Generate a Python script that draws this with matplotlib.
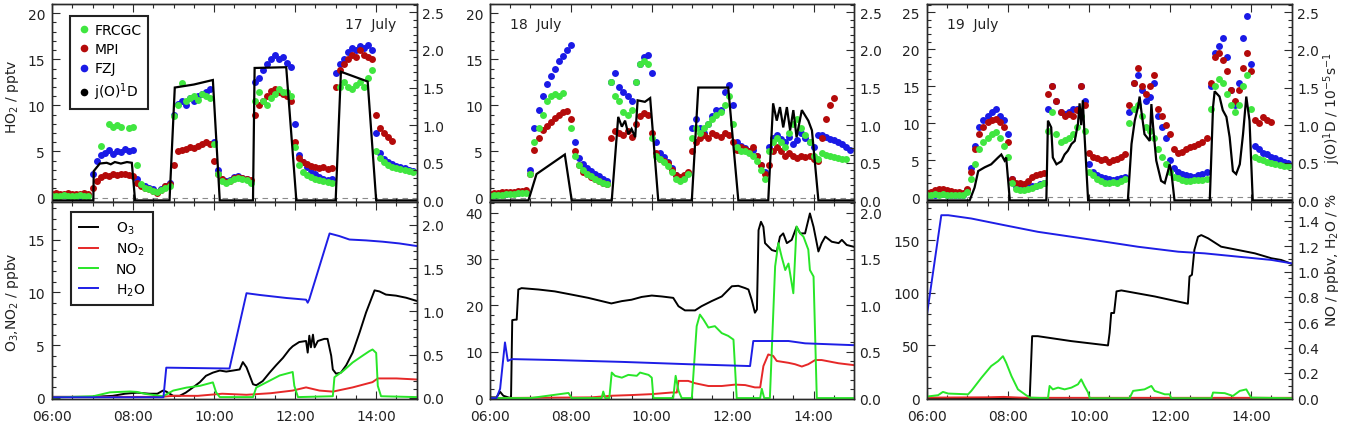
import numpy as np
import matplotlib
matplotlib.use("Agg")
import matplotlib.pyplot as plt
from matplotlib.lines import Line2D
from matplotlib.ticker import MultipleLocator, FormatStrFormatter

plt.rcParams['font.family'] = ['DejaVu Sans']
plt.rcParams['font.size'] = 10
plt.rcParams['mathtext.default'] = 'regular'

nan = np.nan

# ---------------- data ----------------
day_labels = ['17  July', '18  July', '19  July']
time_ticks = [6, 8, 10, 12, 14]
time_labels = ['06:00', '08:00', '10:00', '12:00', '14:00']
# HO2 sampling times (hours), 6-min steps 06:00 ... 14:54
t_ho2 = np.round(np.arange(6.0, 15.0, 0.1), 1)

# HO2 / pptv, 17 July
frcgc_17 = [0.2, 0.15, 0.2, 0.25, 0.2, 0.15, 0.2, 0.25, 0.2, 0.2,
            nan, nan, 5.6, nan, 8.0, 7.6, 7.9, 7.6, nan, 7.5,
            7.7, 3.5, 1.5, 1.0, 0.9, 0.7, 0.6, 0.8, 1.0, 1.2,
            8.8, 10.0, 12.4, 10.5, 10.8, 11.0, 10.6, 11.2, 11.0, 10.8,
            5.8, 2.5, 1.8, 1.6, 1.8, 2.0, 2.1, 2.0, 1.9, 1.6,
            10.5, 11.5, 10.5, 10.0, 10.8, 11.2, 11.8, 11.5, 11.5, 11.0,
            5.5, 3.5, 2.8, 2.4, 2.2, 2.0, 1.9, 1.8, 1.7, 1.6,
            nan, 12.0, 12.5, 12.0, 11.8, 12.2, 12.5, 12.0, 13.0, 13.8,
            5.0, 4.3, 3.8, 3.5, 3.3, 3.2, 3.1, 3.0, 2.9, 2.8]
mpi_17 = [0.4, 0.45, 0.35, 0.4, 0.45, 0.4, 0.35, 0.4, 0.45, 0.4,
          1.0, 1.8, 2.2, 2.4, 2.3, 2.5, 2.4, 2.6, 2.5, 2.4,
          2.3, 1.6, 1.2, 1.0, 0.9, 0.7, 0.5, 0.8, 1.2, 1.5,
          3.5, 5.0, 5.2, 5.3, 5.5, 5.4, 5.6, 5.8, 6.0, 5.8,
          4.0, 2.5, 2.0, 1.7, 1.8, 2.1, 2.2, 2.1, 2.0, 1.9,
          9.0, 10.0, 10.5, 11.0, 11.6, 11.8, 11.4, 11.2, 11.0, 10.5,
          6.0, 4.3, 3.9, 3.6, 3.4, 3.3, 3.2, 3.3, 3.1, 3.2,
          12.0, 13.8, 14.5, 15.0, 15.5, 15.3, 16.0, 15.5, 15.2, 15.0,
          9.0, 7.5, 7.0, 6.6, 6.1, nan, nan, nan, nan, nan]
fzj_17 = [nan, nan, nan, 0.25, 0.2, 0.3, 0.25, 0.2, 0.3, 0.25,
          2.5, 4.0, 4.6, 4.8, 5.2, 4.7, 5.1, 4.9, 5.3, 5.0,
          5.2, 2.0, 1.4, 1.2, 1.0, 0.9, 0.6, 0.9, 1.3, 1.6,
          9.0, 10.2, 10.5, 10.0, 10.8, 10.5, 11.0, 11.2, 11.5, 11.8,
          6.0, 3.0, 2.0, 1.8, 1.9, 2.2, 2.3, 2.1, 2.0, 1.7,
          12.5, 13.0, 13.8, 14.5, 15.0, 15.5, 15.0, 15.3, 14.6, 14.2,
          8.0, 4.6, 3.8, 3.3, 2.8, 2.5, 2.2, 2.0, 1.9, 2.0,
          13.5, 14.5, 15.0, 15.8, 16.2, 16.0, 16.4, 16.2, 16.6, 16.0,
          7.0, 4.8, 4.2, 3.8, 3.6, 3.4, 3.3, 3.2, 3.0, 2.9]

# HO2 / pptv, 18 July
frcgc_18 = [0.2, 0.25, 0.3, 0.3, 0.35, 0.4, 0.4, 0.45, 0.5, 0.5,
            2.5, 6.0, 7.5, 9.0, 10.5, 11.0, 11.2, 11.0, 11.3, nan,
            7.5, 4.5, 3.5, 3.0, 2.6, 2.3, 2.0, 1.8, 1.6, 1.5,
            12.5, 11.0, 10.5, 9.3, 9.0, 9.5, 12.5, 14.5, 14.8, 14.5,
            6.5, 4.5, 4.2, 3.8, 3.4, 2.8, 2.0, 1.8, 2.0, 2.5,
            6.5, 7.5, 7.0, 7.5, 8.0, 8.5, 9.0, 9.3, 10.0, 11.0,
            8.0, 5.5, 5.0, 5.0, 4.8, 4.5, 4.0, 3.0, 2.0, 5.0,
            6.0, 6.5, 6.0, 5.5, 7.0, 8.0, 8.5, 7.5, 6.8, 6.0,
            4.5, 4.2, 4.8, 4.6, 4.5, 4.4, 4.3, 4.2, 4.2, nan]
mpi_18 = [0.4, 0.45, 0.5, 0.55, 0.6, 0.6, 0.65, 0.7, 0.75, 0.8,
          2.5, 5.2, 6.5, 7.3, 7.8, 8.2, 8.6, 9.0, 9.3, 9.4,
          8.5, 5.0, 3.5, 2.8, 2.5, 2.2, 2.0, 1.8, 1.6, 1.5,
          6.5, 7.2, 7.0, 6.8, 7.2, 6.6, 8.0, 8.8, 9.2, 9.0,
          7.0, 4.8, 4.2, 4.0, 3.7, 3.0, 2.4, 2.2, 2.4, 2.8,
          5.0, 6.0, 6.5, 6.8, 6.5, 7.0, 6.8, 6.6, 7.0, 6.8,
          6.0, 5.2, 5.5, 5.3, 5.0, 5.5, 4.5, 3.5, 2.5, 3.5,
          5.0, 5.5, 5.0, 4.5, 4.8, 4.5, 4.3, 4.5, 4.4, 4.5,
          4.2, 4.0, 6.5, 8.5, 10.0, 10.8, nan, nan, nan, nan]
fzj_18 = [0.3, 0.3, 0.35, 0.4, 0.4, 0.45, 0.5, 0.5, 0.55, 0.6,
          3.0, 7.5, 9.5, 11.0, 12.3, 13.2, 14.0, 14.8, 15.4, 16.0,
          16.5, 6.0, 4.3, 3.6, 3.2, 2.9, 2.6, 2.3, 2.0, 1.8,
          12.5, 13.5, 12.0, 11.5, 11.0, 10.5, 12.5, 14.5, 15.2, 15.5,
          13.5, 6.0, 4.8, 4.4, 3.9, 3.2, 2.4, 2.0, 2.2, 2.7,
          7.5, 8.5, 7.5, 7.0, 8.0, 8.8, 9.5, 9.5, 11.5, 12.2,
          10.0, 6.0, 5.6, 5.4, 5.0, 5.2, 4.5, 3.5, 2.8, 5.5,
          6.5, 6.8, 6.4, 6.0, 6.6, 5.8, 6.2, 7.0, 6.5, 6.0,
          5.5, 6.8, 6.8, 6.6, 6.4, 6.2, 6.0, 5.8, 5.5, 5.2]

# HO2 / pptv, 19 July
frcgc_19 = [0.3, 0.4, 0.5, 0.4, 0.5, 0.4, 0.3, 0.4, 0.3, 0.3,
            0.8, 2.5, 4.5, 6.5, 7.5, 8.0, 8.5, 8.8, 8.0, 7.0,
            5.5, 2.0, 1.2, 1.0, 1.0, 1.1, 1.3, 1.5, 1.7, 1.9,
            9.0, 11.5, 8.5, 7.5, 7.8, 8.0, 8.5, 9.5, 11.0, 9.0,
            3.5, 3.0, 2.5, 2.2, 2.0, 2.0, 2.1, 2.0, 2.2, 2.5,
            10.0, 12.0, 12.5, 11.0, 9.5, 9.0, 8.0, 6.5, 5.5, 4.5,
            3.5, 2.8, 2.6, 2.4, 2.2, 2.2, 2.3, 2.4, 2.3, 2.5,
            12.0, 15.0, 16.0, 15.5, 14.0, 12.5, 11.5, 12.5, 15.0, 16.5,
            12.0, 5.5, 5.2, 5.0, 4.8, 4.6, 4.5, 4.4, 4.3, 4.2]
mpi_19 = [0.6, 0.8, 1.0, 1.2, 1.1, 1.0, 0.9, 0.8, 0.7, 0.6,
          1.2, 3.5, 6.5, 8.5, 9.5, 10.2, 10.4, 10.6, 10.2, 9.5,
          7.5, 2.5, 2.0, 2.0, 1.8, 2.2, 2.8, 3.0, 3.2, 3.3,
          14.0, 15.0, 13.0, 11.5, 11.0, 11.2, 11.0, 11.8, 15.0, 12.5,
          6.0, 5.5, 5.3, 5.0, 5.2, 4.8, 5.0, 5.2, 5.5, 5.8,
          12.5, 15.5, 17.5, 15.0, 14.0, 15.0, 16.5, 12.0, 11.0, 9.8,
          8.5, 6.5, 6.0, 6.2, 6.5, 6.8, 7.0, 7.2, 7.5, 8.0,
          15.5, 19.0, 19.5, 18.5, 17.0, 14.5, 13.0, 14.5, 17.5, 19.5,
          17.0, 10.5, 10.0, 10.8, 10.5, 10.2, nan, nan, nan, nan]
fzj_19 = [0.3, 0.3, 0.4, 0.5, 0.5, 0.4, 0.4, 0.3, 0.3, 0.3,
          1.0, 4.0, 7.0, 9.5, 10.5, 11.0, 11.5, 12.0, 11.0, 10.5,
          8.5, 2.5, 1.5, 1.4, 1.3, 1.4, 1.5, 1.6, 1.8, 2.0,
          12.0, 15.0, 13.0, 11.5, 11.2, 11.5, 12.0, 12.0, 15.0, 13.0,
          4.5, 3.5, 3.0, 2.8, 2.6, 2.5, 2.4, 2.5, 2.6, 2.7,
          11.5, 15.5, 16.5, 14.5, 13.0, 13.5, 15.5, 11.0, 9.5, 8.0,
          5.0, 4.0, 3.5, 3.2, 3.0, 2.9, 2.8, 3.0, 3.2, 3.5,
          15.0, 19.5, 20.5, 21.5, 19.0, 14.5, 12.5, 15.5, 21.5, 24.5,
          18.0, 7.0, 6.5, 6.0, 5.8, 5.5, 5.3, 5.0, 4.8, 4.6]

# j(O1D) / 1e-5 s-1
j17_t = [6.0, 7.02, 7.03, 7.18, 7.35, 7.45, 7.55, 7.7, 7.85, 7.97, 8.05,
         8.9, 9.03, 9.5, 9.97, 10.14, 10.96, 11.0, 11.78, 12.03,
         13.0, 13.13, 13.79, 14.0, 15.0]
j17_v = [0, 0, 0.39, 0.49, 0.50, 0.48, 0.51, 0.49, 0.51, 0.50, 0,
         0, 1.50, 1.54, 1.60, 0, 0, 1.76, 1.77, 0,
         0, 1.71, 1.58, 0, 0]
j18_t = [6.0, 6.95, 7.15, 7.85, 8.02, 9.01, 9.17, 9.26, 9.34, 9.42, 9.5,
         9.59, 9.65, 9.83, 9.96, 10.16, 10.99, 11.15, 11.89, 12.14, 12.88,
         13.0, 13.09, 13.17, 13.25, 13.34, 13.42, 13.5, 13.58, 13.71,
         13.87, 13.96, 14.12, 15.0]
j18_v = [0, 0, 0.35, 0.61, 0, 0, 1.11, 0.98, 1.06, 0.88, 0.95,
         0.84, 1.33, 1.31, 1.36, 0, 0, 1.50, 1.50, 0, 0,
         1.29, 1.06, 1.24, 0.97, 1.24, 0.93, 1.20, 0.84, 1.20,
         1.06, 0.93, 0, 0]
j19_t = [6.0, 7.06, 7.18, 7.27, 7.43, 7.59, 7.76, 7.84, 7.92, 7.96, 8.05,
         8.95, 8.99, 9.07, 9.11, 9.2, 9.32, 9.4, 9.48, 9.57, 9.65, 9.73,
         9.77, 9.81, 9.85, 9.89, 9.98, 10.96, 11.05, 11.13, 11.21, 11.25,
         11.29, 11.37, 11.5, 11.54, 11.58, 11.66, 11.78, 11.87, 11.95,
         11.99, 12.03, 12.11, 12.98, 13.06, 13.1, 13.22, 13.3, 13.39,
         13.47, 13.55, 13.63, 13.72, 13.8, 13.88, 13.96, 14.04, 15.0]
j19_v = [0, 0, 0.17, 0.39, 0.44, 0.48, 0.57, 0.61, 0.53, 0.57, 0,
         0, 1.06, 0.97, 0.57, 0.48, 0.52, 0.61, 0.66, 0.75, 0.79, 1.02,
         1.29, 1.00, 1.33, 0.88, 0, 0, 0.75, 1.06, 1.24, 1.38,
         1.20, 0.88, 0.79, 1.28, 1.00, 0.53, 0.26, 0.23, 0.39,
         0.48, 0.39, 0, 0, 1.24, 1.45, 1.38, 1.20, 1.11,
         0.84, 0.39, 0.35, 0.48, 0.88, 1.38, 1.06, 0, 0]

# O3 / ppbv
o3_17_t = [6.0, 7.0, 7.5, 7.8, 8.1, 8.4, 8.6, 8.74, 8.82, 8.99, 9.15, 9.3,
           9.48, 9.65, 9.8, 9.97, 10.14, 10.3, 10.47, 10.63, 10.71, 10.8,
           10.88, 10.96, 11.04, 11.2, 11.37, 11.53, 11.7, 11.86, 11.94,
           12.1, 12.27, 12.31, 12.35, 12.39, 12.44, 12.48, 12.56, 12.72,
           12.8, 12.89, 12.93, 13.01, 13.13, 13.26, 13.42, 13.59, 13.75,
           13.87, 13.96, 14.08, 14.24, 14.49, 14.74, 15.0]
o3_17_v = [0.1, 0.1, 0.2, 0.4, 0.5, 0.4, 0.4, 0.7, 0.6, 0.2, 0.2, 0.5,
           1.0, 1.5, 2.1, 2.4, 2.6, 2.5, 2.6, 2.7, 3.4, 2.9,
           2.1, 1.3, 1.2, 1.6, 2.4, 3.1, 3.8, 4.6, 4.9,
           5.3, 5.4, 4.3, 5.9, 4.8, 6.0, 4.8, 5.4, 5.6,
           5.6, 4.0, 2.7, 2.3, 2.4, 3.1, 4.3, 6.2, 8.1,
           9.3, 10.2, 10.1, 9.8, 9.7, 9.5, 9.2]
o3_18_t = [6.0, 6.16, 6.25, 6.33, 6.45, 6.52, 6.55, 6.62, 6.66, 6.7, 6.78,
           7.2, 7.6, 8.02, 8.43, 9.0, 9.26, 9.5, 9.75, 10.0, 10.25, 10.53,
           10.66, 10.82, 11.07, 11.23, 11.48, 11.73, 11.98, 12.14, 12.31,
           12.39, 12.47, 12.55, 12.6, 12.64, 12.7, 12.76, 12.8, 12.97,
           13.09, 13.17, 13.25, 13.34, 13.46, 13.58, 13.67, 13.79, 13.91,
           14.0, 14.12, 14.2, 14.29, 14.45, 14.62, 14.7, 14.82, 15.0]
o3_18_v = [0.15, 0.15, 1.35, 0.5, 0.15, 0.0, 16.8, 16.9, 16.9, 23.4, 23.7,
           23.4, 23.0, 22.3, 21.6, 20.4, 20.9, 21.2, 21.8, 22.1, 21.9, 21.6,
           19.8, 18.9, 18.9, 19.8, 20.9, 21.9, 24.1, 24.2, 23.7,
           23.4, 21.2, 18.4, 19.1, 36.2, 38.0, 36.9, 33.4, 31.9,
           31.6, 34.8, 35.5, 33.4, 34.1, 36.9, 35.5, 35.5, 39.8,
           36.9, 31.6, 33.4, 34.8, 33.7, 33.4, 34.1, 33.0, 32.6]
o3_19_t = [6.0, 8.54, 8.6, 8.74, 9.57, 10.47, 10.51, 10.55, 10.62, 10.68,
           10.8, 11.62, 12.44, 12.48, 12.54, 12.6, 12.69, 12.77, 12.94,
           13.26, 13.67, 14.09, 14.5, 14.74, 15.0]
o3_19_v = [0, 0, 58.8, 58.8, 54.1, 50.0, 61.9, 80.8, 80.8, 101.3,
           102.2, 96.5, 89.6, 115.4, 117.0, 140.6, 153.1, 154.7, 151.6,
           143.7, 140.6, 137.4, 132.7, 131.1, 127.4]

# NO2 / ppbv
no2_17_t = [6.0, 8.66, 9.0, 9.6, 10.2, 10.8, 11.4, 11.94, 12.27, 12.6,
            12.93, 13.42, 13.91, 14.04, 14.5, 15.0]
no2_17_v = [0.1, 0.1, 0.2, 0.2, 0.4, 0.3, 0.45, 0.7, 1.0, 0.7,
            0.6, 1.0, 1.5, 1.85, 1.85, 1.75]
no2_18_t = [6.0, 8.5, 9.0, 9.5, 10.0, 10.49, 10.62, 10.66, 10.9, 11.07,
            11.4, 11.73, 12.06, 12.31, 12.55, 12.68, 12.76, 12.88, 13.0,
            13.09, 13.38, 13.54, 13.71, 13.87, 14.04, 14.2, 14.62, 15.0]
no2_18_v = [0.0, 0.15, 0.5, 0.65, 0.85, 1.2, 1.2, 3.7, 3.7, 3.2,
            2.6, 2.6, 2.9, 2.8, 2.3, 2.3, 6.9, 9.4, 9.1,
            8.0, 7.6, 7.3, 6.8, 7.3, 8.2, 8.2, 7.5, 7.1]
no2_19_t = [6.0, 7.5, 7.9, 8.3, 8.6, 10.0, 12.0, 14.0, 15.0]
no2_19_v = [0.5, 0.8, 1.2, 0.5, 0.3, 0.3, 0.3, 0.3, 0.3]

# NO / ppbv
no_17_t = [6.0, 7.02, 7.43, 7.92, 8.09, 8.33, 8.66, 8.74, 8.99, 9.32, 9.65,
           9.97, 10.05, 10.14, 10.96, 11.04, 11.29, 11.62, 11.94, 11.98,
           12.07, 12.93, 12.97, 13.18, 13.42, 13.67, 13.83, 13.91, 14.0,
           14.04, 14.12, 15.0]
no_17_v = [0.005, 0.02, 0.065, 0.075, 0.07, 0.045, 0.025, 0.02, 0.085, 0.12,
           0.14, 0.18, 0.065, 0.01, 0.01, 0.12, 0.18, 0.26, 0.30, 0.14,
           0.01, 0.02, 0.24, 0.31, 0.41, 0.49, 0.54, 0.56, 0.52,
           0.14, 0.02, 0.01]
no_18_t = [6.0, 7.0, 7.94, 8.02, 8.76, 8.8, 8.85, 8.95, 9.01, 9.09, 9.26,
           9.42, 9.63, 9.71, 9.92, 10.0, 10.04, 10.53, 10.59, 10.66, 10.74,
           10.99, 11.11, 11.19, 11.28, 11.4, 11.56, 11.73, 11.89, 12.02,
           12.1, 12.68, 12.72, 12.78, 12.92, 13.05, 13.13, 13.21, 13.3,
           13.38, 13.5, 13.58, 13.67, 13.75, 13.87, 13.91, 14.0, 14.08, 15.0]
no_18_v = [0.0, 0.0, 0.055, 0.0, 0.0, 0.07, 0.0, 0.0, 0.275, 0.24, 0.22,
           0.25, 0.24, 0.275, 0.25, 0.22, 0.0, 0.0, 0.24, 0.08, 0.0,
           0.0, 0.775, 0.90, 0.845, 0.76, 0.775, 0.70, 0.67, 0.63,
           0.0, 0.0, 0.10, 0.0, 0.0, 1.42, 1.67, 1.525, 1.38,
           1.45, 1.13, 1.85, 1.775, 1.74, 1.60, 1.38, 1.31, 0.0, 0.0]
no_19_t = [6.0, 6.28, 6.4, 6.53, 7.02, 7.1, 7.35, 7.59, 7.76, 7.88, 7.96,
           8.09, 8.25, 8.42, 8.54, 8.99, 9.03, 9.11, 9.24, 9.4, 9.57, 9.73,
           9.81, 9.89, 9.98, 10.02, 11.0, 11.09, 11.37, 11.54, 11.62, 11.87,
           11.99, 12.03, 13.02, 13.06, 13.35, 13.55, 13.72, 13.88, 14.0, 15.0]
no_19_v = [0.013, 0.024, 0.05, 0.037, 0.031, 0.058, 0.162, 0.254, 0.293,
           0.332, 0.28, 0.175, 0.07, 0.031, 0.005, 0.0, 0.097, 0.07, 0.084,
           0.07, 0.084, 0.11, 0.149, 0.097, 0.045, 0.0, 0.0, 0.058, 0.07,
           0.097, 0.058, 0.031, 0.031, 0.0, 0.0, 0.045, 0.04, 0.018, 0.058,
           0.07, 0.005, 0.0]

# H2O / %
h2o_17_t = [6.0, 8.75, 8.82, 10.38, 10.8, 11.12, 11.78, 12.27, 12.31, 12.35,
            12.85, 13.09, 13.34, 13.75, 14.16, 14.57, 15.0]
h2o_17_v = [0.008, 0.008, 0.35, 0.34, 1.21, 1.19, 1.155, 1.135, 1.10, 1.14,
            1.90, 1.87, 1.83, 1.82, 1.805, 1.785, 1.755]
h2o_18_t = [6.0, 6.16, 6.25, 6.37, 6.44, 6.54, 7.6, 9.26, 10.9, 12.43,
            12.51, 13.38, 13.79, 15.0]
h2o_18_v = [0.0, 0.0, 0.1, 0.6, 0.4, 0.42, 0.41, 0.39, 0.365, 0.345,
            0.615, 0.615, 0.59, 0.57]
h2o_19_t = [6.0, 6.36, 6.53, 7.1, 7.92, 8.74, 9.57, 10.39, 11.21, 12.2,
            12.85, 13.67, 14.5, 15.0]
h2o_19_v = [0.647, 1.445, 1.445, 1.419, 1.366, 1.314, 1.275, 1.236, 1.196,
            1.157, 1.144, 1.118, 1.092, 1.065]

# ---------------- style ----------------
C_FRCGC = '#40e640'
C_MPI = '#b40a0a'
C_FZJ = '#1a1ae6'
C_O3 = 'black'
C_NO2 = '#e62828'
C_NO = '#28e628'
C_H2O = '#1e1ee6'
SPINE = '#2a2a2a'
MS = 5.0

W, H = 1366, 439
fig = plt.figure(figsize=(W / 100, H / 100), dpi=100)

lefts = [52.0, 490.0, 926.7]
widths = [364.7, 364.0, 365.0]
top_y0, top_y1 = 5.0, 203.3
bot_y0, bot_y1 = 203.3, 400.0

ho2_sets = [(frcgc_17, mpi_17, fzj_17), (frcgc_18, mpi_18, fzj_18),
            (frcgc_19, mpi_19, fzj_19)]
j_sets = [(j17_t, j17_v), (j18_t, j18_v), (j19_t, j19_v)]
o3_sets = [(o3_17_t, o3_17_v), (o3_18_t, o3_18_v), (o3_19_t, o3_19_v)]
no2_sets = [(no2_17_t, no2_17_v), (no2_18_t, no2_18_v), (no2_19_t, no2_19_v)]
no_sets = [(no_17_t, no_17_v), (no_18_t, no_18_v), (no_19_t, no_19_v)]
h2o_sets = [(h2o_17_t, h2o_17_v), (h2o_18_t, h2o_18_v), (h2o_19_t, h2o_19_v)]

top_left_lim = [(-0.52, 21.0), (-0.52, 21.0), (-0.65, 26.1)]
top_right_lim = (-0.025, 2.61)
bot_left_lim = [(-0.1, 18.55), (-0.2, 42.2), (-0.8, 185.8)]
bot_right_lim = [(-0.012, 2.26), (-0.01, 2.11), (-0.006, 1.547)]
bot_left_major = [5, 10, 50]
bot_left_minor = [1, 2, 10]
bot_right_major = [0.5, 0.5, 0.2]
bot_right_minor = [0.1, 0.1, 0.05]


def style_axes(ax, twin, xlabels):
    for a in (ax, twin):
        for s in a.spines.values():
            s.set_color(SPINE)
            s.set_linewidth(1.0)
    ax.set_xlim(6, 15)
    ax.set_xticks(time_ticks)
    ax.xaxis.set_minor_locator(MultipleLocator(0.5))
    if xlabels:
        ax.set_xticklabels(time_labels)
    ax.tick_params(axis='x', which='both', direction='in', top=True,
                   bottom=True, labelbottom=xlabels, pad=7, colors=SPINE,
                   labelcolor='#222')
    ax.tick_params(axis='x', which='major', length=6, width=0.8)
    ax.tick_params(axis='x', which='minor', length=3, width=0.8)
    ax.tick_params(axis='y', which='both', direction='in', left=True,
                   right=False, pad=5, colors=SPINE, labelcolor='#222')
    ax.tick_params(axis='y', which='major', length=6, width=0.8)
    ax.tick_params(axis='y', which='minor', length=3, width=0.8)
    twin.tick_params(axis='y', which='both', direction='in', right=True,
                     left=False, pad=4, colors=SPINE, labelcolor='#222')
    twin.tick_params(axis='y', which='major', length=6, width=0.8)
    twin.tick_params(axis='y', which='minor', length=3, width=0.8)
    twin.yaxis.set_major_formatter(FormatStrFormatter('%.1f'))


for i in range(3):
    x0 = lefts[i] / W
    w = widths[i] / W
    # ---- top panel: HO2 and j(O1D)
    ax = fig.add_axes([x0, 1 - top_y1 / H, w, (top_y1 - top_y0) / H])
    ax2 = ax.twinx()
    frc, mpi, fzj = ho2_sets[i]
    ax.axhline(0, color='#8c8c8c', lw=0.8, ls=(0, (5, 4)), zorder=1)
    ax.plot(t_ho2, fzj, ls='none', marker='o', ms=MS, mew=0, color=C_FZJ, zorder=2)
    ax.plot(t_ho2, mpi, ls='none', marker='o', ms=MS, mew=0, color=C_MPI, zorder=3)
    ax.plot(t_ho2, frc, ls='none', marker='o', ms=MS, mew=0, color=C_FRCGC, zorder=4)
    jt, jv = j_sets[i]
    ax2.plot(jt, jv, color='black', lw=1.6, solid_joinstyle='miter')
    ax.set_ylim(*top_left_lim[i])
    ax2.set_ylim(*top_right_lim)
    ax.yaxis.set_major_locator(MultipleLocator(5))
    ax.yaxis.set_minor_locator(MultipleLocator(1))
    ax2.yaxis.set_major_locator(MultipleLocator(0.5))
    ax2.yaxis.set_minor_locator(MultipleLocator(0.1))
    style_axes(ax, ax2, False)
    if i == 0:
        ax.text(0.875, 0.899, day_labels[i], transform=ax.transAxes,
                ha='center', va='center', fontsize=10, color='#222')
        handles = [Line2D([], [], ls='none', marker='o', ms=5.5, mew=0, color=c)
                   for c in (C_FRCGC, C_MPI, C_FZJ, 'black')]
        leg = ax2.legend(handles, ['FRCGC', 'MPI', 'FZJ', 'j(O)$^1$D'],
                         loc='upper left', bbox_to_anchor=(0.049, 0.9395),
                         borderaxespad=0, frameon=True, fancybox=False,
                         framealpha=1, edgecolor='#222', borderpad=0.5,
                         labelspacing=0.38, handlelength=1.0,
                         handletextpad=0.25, fontsize=10)
        leg.get_frame().set_linewidth(1.5)
    else:
        ax.text(0.055, 0.899, day_labels[i], transform=ax.transAxes,
                ha='left', va='center', fontsize=10, color='#222')

    # ---- bottom panel: O3, NO2 (left) and NO, H2O (right)
    bx = fig.add_axes([x0, 1 - bot_y1 / H, w, (bot_y1 - bot_y0) / H])
    bx2 = bx.twinx()
    t, v = o3_sets[i]
    l_o3, = bx.plot(t, v, color=C_O3, lw=1.4)
    t, v = no2_sets[i]
    l_no2, = bx.plot(t, v, color=C_NO2, lw=1.4)
    t, v = no_sets[i]
    l_no, = bx2.plot(t, v, color=C_NO, lw=1.4)
    t, v = h2o_sets[i]
    l_h2o, = bx2.plot(t, v, color=C_H2O, lw=1.4)
    bx.set_ylim(*bot_left_lim[i])
    bx2.set_ylim(*bot_right_lim[i])
    bx.yaxis.set_major_locator(MultipleLocator(bot_left_major[i]))
    bx.yaxis.set_minor_locator(MultipleLocator(bot_left_minor[i]))
    bx2.yaxis.set_major_locator(MultipleLocator(bot_right_major[i]))
    bx2.yaxis.set_minor_locator(MultipleLocator(bot_right_minor[i]))
    style_axes(bx, bx2, True)
    if i == 0:
        leg = bx2.legend([l_o3, l_no2, l_no, l_h2o],
                         ['O$_3$', 'NO$_2$', 'NO', 'H$_2$O'],
                         loc='upper left', bbox_to_anchor=(0.052, 0.952),
                         borderaxespad=0, frameon=True, fancybox=False,
                         framealpha=1, edgecolor='#222', borderpad=0.55,
                         labelspacing=0.36, handlelength=1.4,
                         handletextpad=1.3, fontsize=10)
        leg.get_frame().set_linewidth(1.5)

# axis titles
fig.text(12.5 / W, 1 - 97 / H, 'HO$_2$ / pptv', rotation=90, ha='center',
         va='center', fontsize=10, color='#222')
fig.text(12.5 / W, 1 - 302 / H, 'O$_3$,NO$_2$ / ppbv', rotation=90,
         ha='center', va='center', fontsize=10, color='#222')
fig.text(1332 / W, 1 - 108 / H, 'j(O)$^1$D / 10$^{-5}$s$^{-1}$', rotation=90,
         ha='center', va='center', fontsize=10, color='#222')
fig.text(1332 / W, 1 - 260 / H, 'NO / ppbv, H$_2$O / %', rotation=90,
         ha='center', va='center', fontsize=10, color='#222')

fig.savefig('out.png', dpi=100)
